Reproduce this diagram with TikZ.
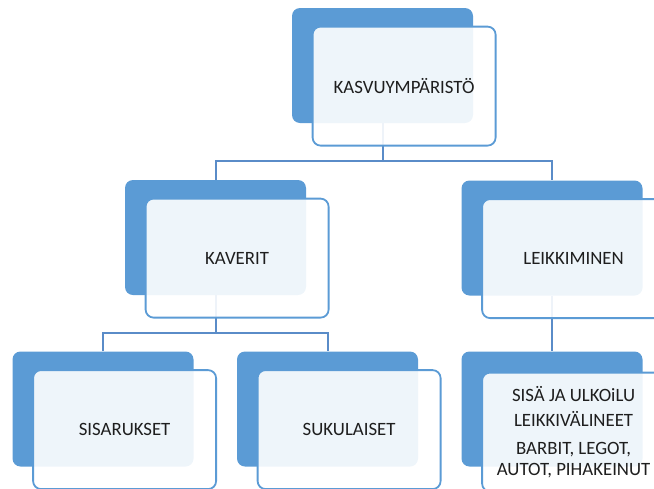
\documentclass[tikz,border=0pt]{standalone}
\usepackage{fontspec}
\setmainfont{Carlito}
\usepackage{tikz}
\usetikzlibrary{positioning}
\definecolor{boxblue}{HTML}{5B9BD5}
\definecolor{lineblue}{HTML}{5A8CC8}
\definecolor{textgray}{HTML}{1E1E1E}
\tikzset{backbox/.style={fill=boxblue, rounded corners=8pt,
        minimum width=181pt, minimum height=115pt, inner sep=0pt},
    frontbox/.style={draw=boxblue, line width=1.8pt, fill=white,
        fill opacity=0.9, text opacity=1, text=textgray, rounded corners=8pt,
        minimum width=183pt, minimum height=119pt, inner sep=0pt,
        align=center, font=\fontsize{18.8}{21.5}\selectfont},
    conn/.style={draw=lineblue, line width=2pt}
}

\begin{document}
\begin{tikzpicture}[x=1pt, y=-1pt]
            \useasboundingbox (0,0) rectangle (654,488);
            % back boxes
            \node[backbox] (kasvuB) at (382.5, 65.5) {};
            \node[backbox] (kaveritB) at (215.5, 237.5) {};
            \node[backbox] (leikkiB) at (552, 238) {};
            \node[backbox] (sisarB) at (103, 409) {};
            \node[backbox] (sukuB) at (327.5, 409) {};
            \node[backbox] (valineB) at (552, 409) {};
            % bars
            \coordinate (bar1) at (0, 161);
            \coordinate (bar2) at (0, 333);
            \draw[conn] (kasvuB.south) to (kasvuB.south |- bar1);
            \draw[conn] (kaveritB.north) |- (kasvuB.south |- bar1) -| (leikkiB.north);
            \draw[conn] (kaveritB.south) to (kaveritB.south |- bar2);
            \draw[conn] (sisarB.north) |- (kaveritB.south |- bar2) -| (sukuB.north);
            \draw[conn] (leikkiB.south) to (valineB.north);
            % front boxes
            \node[frontbox, below right=-97.5pt and -161.5pt of kasvuB] (kasvu) {KASVUYMPÄRISTÖ};
            \node[frontbox, below right=-97.5pt and -161.5pt of kaveritB] (kaverit) {KAVERIT};
            \node[frontbox, below right=-97.5pt and -161.5pt of leikkiB] (leikki) {LEIKKIMINEN};
            \node[frontbox, below right=-97.5pt and -161.5pt of sisarB] (sisar) {SISARUKSET};
            \node[frontbox, below right=-97.5pt and -161.5pt of sukuB] (suku) {SUKULAISET};
            \node[frontbox, below right=-95pt and -161.5pt of valineB] (valine) {SISÄ JA ULKOiLU\\[4pt]
                LEIKKIVÄLINEET\\[6pt] BARBIT, LEGOT,\\ AUTOT, PIHAKEINUT};
        \end{tikzpicture}
\end{document}
